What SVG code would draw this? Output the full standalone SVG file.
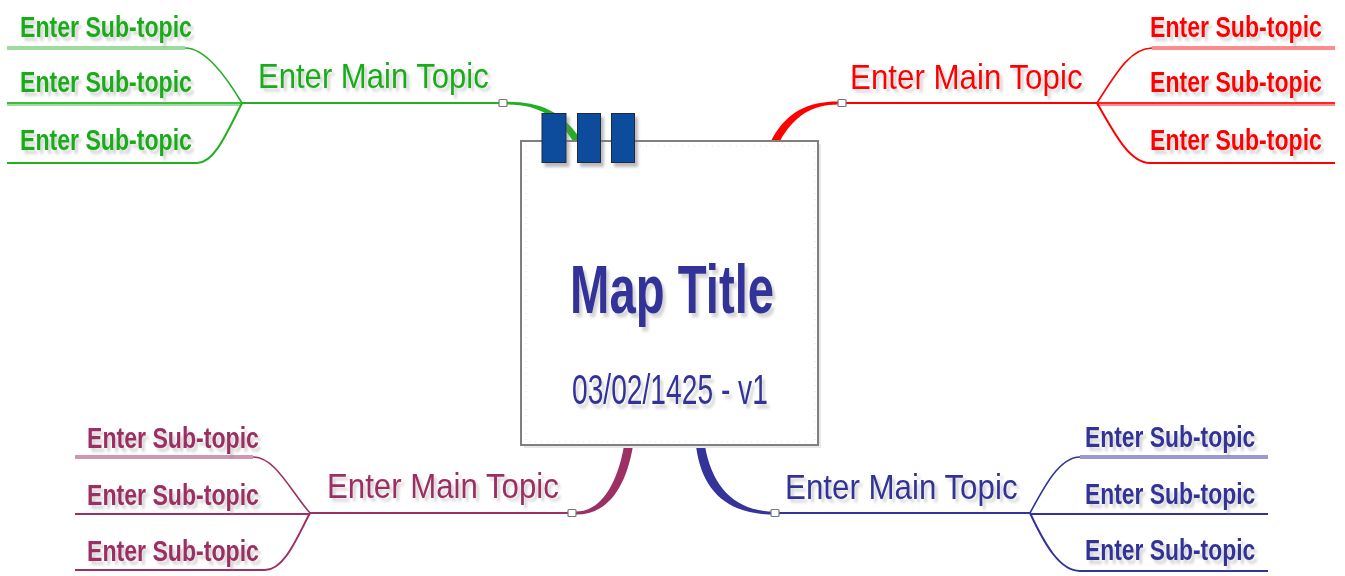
<svg xmlns="http://www.w3.org/2000/svg" width="1345" height="576" viewBox="0 0 1345 576">
<style>
text{font-family:"Liberation Sans",Arial,sans-serif;filter:url(#ts)}
.sub{font-size:23.1px;font-weight:bold}
.main{font-size:30.4px}
.g{fill:#19ad19}.r{fill:#ff0000}.p{fill:#9c2f64}.b{fill:#333399}
.ln{fill:none;stroke-width:2}
.thin{fill:none;stroke-width:1.6}
.lt{fill:none;stroke-width:4}
.sq{fill:#fff;stroke:#777;stroke-width:1.2}
.tab{fill:#0b4c9c;stroke:#1c2a4a;stroke-width:1}
</style>
<defs>
<filter id="ts" x="-10%" y="-20%" width="130%" height="160%">
<feDropShadow dx="3" dy="3" stdDeviation="1.2" flood-color="#888" flood-opacity="0.35"/>
</filter>
<filter id="bs" x="-20%" y="-20%" width="160%" height="160%">
<feDropShadow dx="3" dy="4" stdDeviation="1.5" flood-color="#777" flood-opacity="0.5"/>
</filter>
</defs>
<rect width="1345" height="576" fill="#fff"/>

<g id="connectors">
<!-- green -->
<path class="thin" stroke="#22b022" d="M185 48 C205 48 225 75 242 103"/>
<path class="lt" stroke="#9ddc9d" d="M7 48 H185"/>
<path class="lt" stroke="#9ddc9d" d="M7 104 H242"/>
<path class="thin" stroke="#22b022" d="M7 103 H242"/>
<path class="ln" stroke="#22b022" d="M7 163 H197 C215 163 228 130 242 103"/>
<path class="ln" stroke="#22b022" d="M242 103 H503"/>
<path fill="#22b022" d="M507 101.8 C540 101.8 562 111 581 140 L573 141 C558 118 540 104.6 507 104.6 Z"/>
<!-- red -->
<path class="thin" stroke="#ff0000" d="M1097 103 C1115 75 1130 48 1152 48"/>
<path class="lt" stroke="#ff8c8c" d="M1152 48 H1335"/>
<path class="lt" stroke="#ff8c8c" d="M1097 104 H1335"/>
<path class="thin" stroke="#ff0000" d="M1097 103 H1335"/>
<path class="ln" stroke="#ff0000" d="M1097 103 C1115 135 1130 163 1150 163 H1335"/>
<path class="ln" stroke="#ff0000" d="M842 103 H1097"/>
<path fill="#ff0000" d="M771 141 C786 112 808 101.6 838 101.6 L838 104.6 C812 104.6 794 116 780 141 Z"/>
<!-- purple -->
<path class="thin" stroke="#9c2f64" d="M253 457 C275 457 290 490 310 513"/>
<path class="lt" stroke="#cf97b3" d="M75 457 H253"/>
<path class="ln" stroke="#9c2f64" d="M75 514 H310"/>
<path class="ln" stroke="#9c2f64" d="M75 570 H265 C285 570 298 535 310 513"/>
<path class="ln" stroke="#9c2f64" d="M310 513 H572"/>
<path fill="#9c2f64" d="M624 446 L633 446 C625 492 605 514.6 576 514.6 L576 511.6 C598 511.6 616 490 624 446 Z"/>
<!-- blue -->
<path class="thin" stroke="#333399" d="M1030 513 C1045 485 1060 457 1080 457"/>
<path class="lt" stroke="#9a9ad2" d="M1080 457 H1268"/>
<path class="ln" stroke="#333399" d="M1030 514 H1268"/>
<path class="ln" stroke="#333399" d="M1030 513 C1045 545 1060 571 1080 571 H1268"/>
<path class="ln" stroke="#333399" d="M779 513 H1030"/>
<path fill="#333399" d="M696 446 L705 446 C712 487 735 511.6 775 511.6 L775 514.6 C728 514.6 702 492 696 446 Z"/>
<!-- junction squares -->
<rect class="sq" x="499" y="99.5" width="8" height="7" rx="1"/>
<rect class="sq" x="838" y="99.5" width="8" height="7" rx="1"/>
<rect class="sq" x="568" y="509.5" width="8" height="7" rx="1"/>
<rect class="sq" x="771" y="509.5" width="8" height="7" rx="1"/>
</g>

<g id="central">
<rect x="524" y="144" width="297" height="304" fill="#e8e8e8"/>
<rect x="521" y="141" width="297" height="304" fill="#fff" stroke="#7f7f7f" stroke-width="2"/>
<rect x="526" y="146" width="289" height="296" fill="none" stroke="#e4e4e4" stroke-width="1" stroke-dasharray="1 5"/>
<g filter="url(#bs)">
<rect class="tab" x="542" y="113.5" width="24" height="49"/>
<rect class="tab" x="577.5" y="113.5" width="23" height="49"/>
<rect class="tab" x="611.5" y="113.5" width="23" height="49"/>
</g>
<text class="b" transform="translate(570 313) scale(1 1.44)" font-size="47.3" font-weight="bold">Map Title</text>
<text class="b" transform="translate(572 404) scale(1 1.49)" font-size="28.2">03/02/1425 - v1</text>
</g>

<g id="main-green"><text class="main g" transform="translate(258 88) scale(1.022 1.15)">Enter Main Topic</text></g>
<g id="sub-green-1"><text class="sub g" transform="translate(20 37) scale(1 1.3)">Enter Sub-topic</text></g>
<g id="sub-green-2"><text class="sub g" transform="translate(20 92) scale(1 1.3)">Enter Sub-topic</text></g>
<g id="sub-green-3"><text class="sub g" transform="translate(20 150) scale(1 1.3)">Enter Sub-topic</text></g>

<g id="main-red"><text class="main r" transform="translate(850 89) scale(1.03 1.15)">Enter Main Topic</text></g>
<g id="sub-red-1"><text class="sub r" transform="translate(1150 37) scale(1 1.3)">Enter Sub-topic</text></g>
<g id="sub-red-2"><text class="sub r" transform="translate(1150 92) scale(1 1.3)">Enter Sub-topic</text></g>
<g id="sub-red-3"><text class="sub r" transform="translate(1150 150) scale(1 1.3)">Enter Sub-topic</text></g>

<g id="main-purple"><text class="main p" transform="translate(327 498) scale(1.027 1.15)">Enter Main Topic</text></g>
<g id="sub-purple-1"><text class="sub p" transform="translate(87 448) scale(1 1.3)">Enter Sub-topic</text></g>
<g id="sub-purple-2"><text class="sub p" transform="translate(87 505) scale(1 1.3)">Enter Sub-topic</text></g>
<g id="sub-purple-3"><text class="sub p" transform="translate(87 561) scale(1 1.3)">Enter Sub-topic</text></g>

<g id="main-blue"><text class="main b" transform="translate(785 499) scale(1.03 1.15)">Enter Main Topic</text></g>
<g id="sub-blue-1"><text class="sub b" transform="translate(1085 447) scale(0.99 1.3)">Enter Sub-topic</text></g>
<g id="sub-blue-2"><text class="sub b" transform="translate(1085 504) scale(0.99 1.3)">Enter Sub-topic</text></g>
<g id="sub-blue-3"><text class="sub b" transform="translate(1085 560) scale(0.99 1.3)">Enter Sub-topic</text></g>
</svg>
